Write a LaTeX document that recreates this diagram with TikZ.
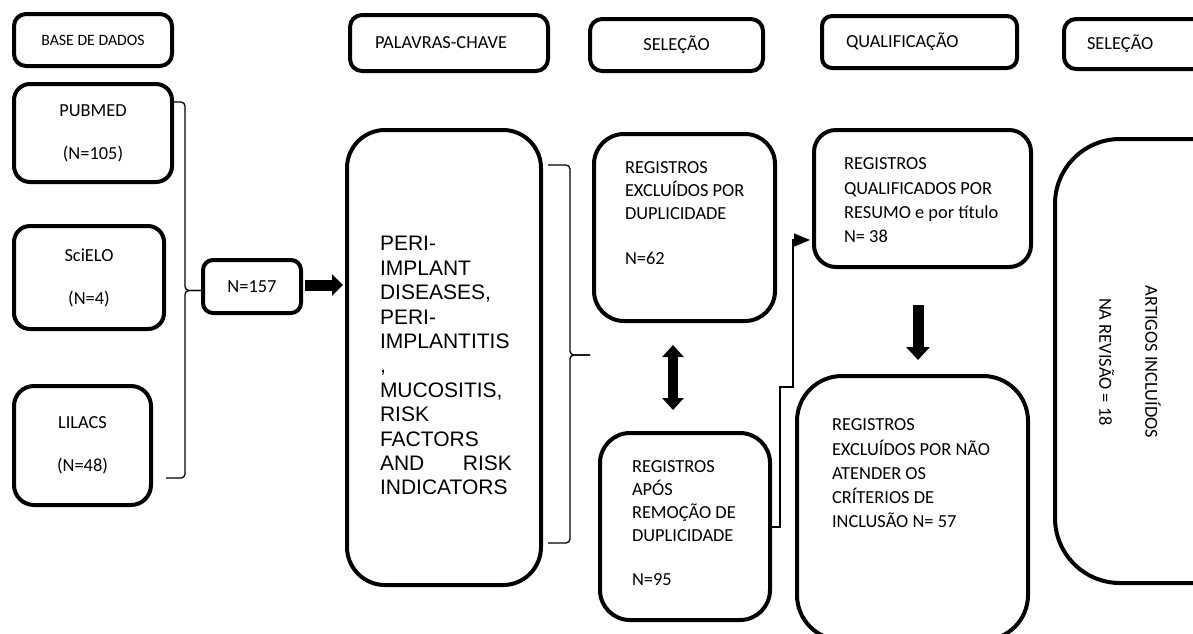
\documentclass[tikz,border=0pt]{standalone}
\usepackage{fontspec}
\setmainfont{Carlito}
\newfontfamily\kwfont{Liberation Sans}
\usetikzlibrary{arrows.meta,calc}

\begin{document}
\begin{tikzpicture}[x=1pt, y=-1pt, line width=4pt,
font=\fontsize{18.4}{23.5}\selectfont,
box/.style={draw, rounded corners=#1, outer sep=0pt, inner sep=0pt},
txt/.style={font=\fontsize{18.4}{#1}\selectfont, align=left, inner sep=0pt, anchor=north west},
brace/.style={line width=1.3pt, rounded corners=4pt},
link/.style={line width=1.3pt}]

\useasboundingbox (0,0) rectangle (1193,633);
\clip (0,0) rectangle (1193,633);

% titulos das etapas
\node [box=12pt, minimum width=158pt, minimum height=52pt, font=\fontsize{15.8}{19}\selectfont] (hbase) at (93,40) {BASE DE DADOS};
\node [box=12pt, minimum width=198pt, minimum height=56pt, text width=148pt, align=left] (hkey) at (449,43) {PALAVRAS-CHAVE};
\node [box=12pt, minimum width=173pt, minimum height=52pt] (hsel) at (676.5,45) {SELEÇÃO};
\node [box=10pt, minimum width=195pt, minimum height=52pt, text width=147pt, align=left] (hqual) at (919.5,42) {QUALIFICAÇÃO};
\node [box=12pt, minimum width=174pt, minimum height=50pt, text width=128pt, align=left] (hfinal) at (1151,44) {SELEÇÃO};

% bases de dados
\node [box=16pt, minimum width=158pt, minimum height=98pt, align=center] (pubmed) at (93,133) {PUBMED\\[19.5pt](N=105)};
\node [box=16pt, minimum width=150pt, minimum height=103pt, align=center] (scielo) at (89,277.5) {SciELO\\[19.5pt](N=4)};
\node [box=20pt, minimum width=137pt, minimum height=119pt, align=center] (lilacs) at (82.5,445.5) {LILACS\\[20pt](N=48)};
\node [box=10pt, minimum width=98pt, minimum height=53pt] (n157) at (252,286.5) {N=157};

% palavras-chave
\node [box=38pt, minimum width=194pt, minimum height=455pt] (kw) at (444,357.5) {};
\node [txt=24.4, font=\kwfont\fontsize{21}{24.4}\selectfont, text width=132pt] (kwt) at (378,234.5)
{PERI-\\IMPLANT\\DISEASES,\\PERI-\\IMPLANTITIS\\,\\MUCOSITIS,\\RISK\\FACTORS\\\leavevmode\hbox to 132pt{AND\hfil RISK}\\INDICATORS};

% selecao
\node [box=30pt, minimum width=181pt, minimum height=187pt] (dup) at (684.5,227.5) {};
\node [txt=23] (dupt) at (623,160) {REGISTROS\\EXCLUÍDOS POR\\DUPLICIDADE\\[22pt]N=62};
\node [box=30pt, minimum width=170pt, minimum height=187pt] (apos) at (685,526.5) {};
\node [txt=22.7] (apost) at (630,459) {REGISTROS\\APÓS\\REMOÇÃO DE\\DUPLICIDADE\\[21.3pt]N=95};

% qualificacao
\node [box=22pt, minimum width=217pt, minimum height=137pt] (qual) at (922.5,198.5) {};
\node [txt=24.3] (qualt) at (842,156) {REGISTROS\\QUALIFICADOS POR\\RESUMO e por título\\N= 38};
\node [box=45pt, minimum width=231pt, minimum height=264pt] (excl) at (912.5,508) {};
\node [txt=24.25] (exclt) at (830,417) {REGISTROS\\EXCLUÍDOS POR NÃO\\ATENDER OS\\CRÍTERIOS DE\\INCLUSÃO N= 57};

% artigos incluidos
\node [box=65pt, minimum width=208pt, minimum height=444pt] (art) at (1159,361) {};
\node [rotate=-90, align=center, font=\fontsize{18.4}{23}\selectfont] (artt) at (1130,362) {ARTIGOS INCLUÍDOS\\[23pt]NA REVISÃO = 18};

% chaves
\coordinate (btip) at ([yshift=-4pt]n157.west);
\coordinate (bend) at (166,478);
\draw [brace] (pubmed.east |- 0,102) -| (185,290.5) -- (btip);
\draw [brace] (btip) -- (185,290.5) |- (bend);

\coordinate (kwtop) at (548,165);
\coordinate (kwbot) at (548,543);
\coordinate (stip) at (590,355);
\draw [brace] (kwtop) -| (570,355) -- (stip);
\draw [brace] (stip) -- (570,355) |- (kwbot);

\draw [link, -{Triangle[width=13pt,length=16pt]}, shorten >=4pt] (apos.east |- 0,527) -| (780,387) -| (793,240) -- (qual.west |- 0,240);

% setas grossas
\draw [line width=11pt, -{Triangle[width=21pt,length=11pt]}, shorten <=4pt, shorten >=4pt] ([yshift=1.5pt]n157.east) -- ([yshift=1.5pt]n157.east -| kw.west);
\draw [line width=10pt, {Triangle[width=21pt,length=12pt]}-{Triangle[width=21pt,length=12pt]}, shorten <=24pt, shorten >=23pt] ([xshift=-11.5pt]dup.south) -- ([xshift=-11.5pt]dup.south |- apos.north);
\draw [line width=11pt, -{Triangle[width=23pt,length=13pt]}, shorten <=38pt, shorten >=16pt] ([xshift=-4.5pt]qual.south) -- ([xshift=-4.5pt]qual.south |- excl.north);

\end{tikzpicture}
\end{document}
